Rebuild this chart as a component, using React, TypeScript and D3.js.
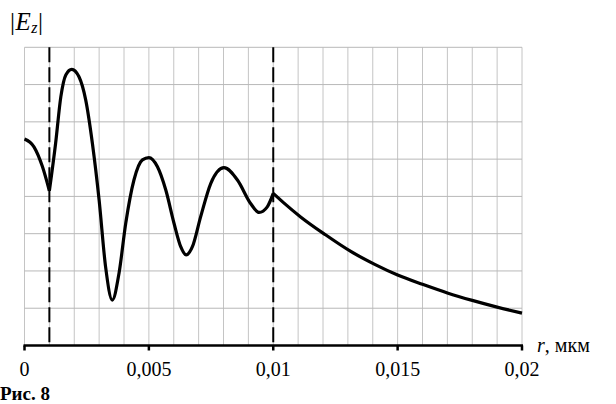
import React from "react";
import * as d3 from "d3";

// Curve, in three pieces (cusps at r = 0.001 and r = 0.01)
// values are in grid units (8 horizontal grid intervals, no y labels shown)
const seg1R = [0, 0.00038, 0.00072, 0.001];
const seg1V = [5.54, 5.33, 4.8, 4.15];

const seg2R = [0.001, 0.00125, 0.00146, 0.00166, 0.0019, 0.00219, 0.00246, 0.00273, 0.003, 0.00326, 0.00353, 0.0038, 0.00407, 0.0044, 0.00474, 0.005, 0.00534, 0.00568, 0.00601, 0.00628, 0.0065, 0.00675, 0.00708, 0.00749, 0.00802, 0.00856, 0.00909, 0.00943, 0.00976, 0.01];
const seg2V = [4.15, 5.42, 6.67, 7.26, 7.41, 7.21, 6.59, 5.42, 3.9, 2.11, 1.22, 1.94, 3.28, 4.44, 4.98, 5.04, 4.8, 4.17, 3.28, 2.65, 2.43, 2.65, 3.45, 4.35, 4.77, 4.44, 3.81, 3.57, 3.72, 4.08];

const seg3R = [0.01, 0.0104, 0.0111, 0.0121, 0.0131, 0.0141, 0.015, 0.016, 0.017, 0.018, 0.019, 0.02];
const seg3V = [4.08, 3.84, 3.45, 2.97, 2.53, 2.17, 1.89, 1.64, 1.41, 1.21, 1.03, 0.87];

const xTicks = [0, 0.005, 0.01, 0.015, 0.02];
const xTickLabels = ["0", "0,005", "0,01", "0,015", "0,02"];
const dashedAt = [0.001, 0.01];

const W = 616;
const H = 404;
const left = 24.5;
const right = 522;
const top = 47.3;
const bottom = 345.5;

export default function App() {
  const x = d3.scaleLinear().domain([0, 0.02]).range([left, right]);
  const y = d3.scaleLinear().domain([0, 8]).range([bottom, top]);
  const vGrid = d3.range(0, 21).map((i) => i * 0.001);
  const hGrid = d3.range(0, 9);

  const line = d3
    .line<[number, number]>()
    .x((d) => x(d[0]))
    .y((d) => y(d[1]))
    .curve(d3.curveMonotoneX);

  const segs = [
    [seg1R, seg1V],
    [seg2R, seg2V],
    [seg3R, seg3V],
  ].map(([rs, vs]) => line(rs.map((r, i) => [r, vs[i]] as [number, number])) || "");

  const serif = "'Liberation Serif', 'DejaVu Serif', serif";

  return (
    <svg
      width={W}
      height={H}
      style={{ position: "absolute", left: 0, top: 0, background: "#fff" }}
      fontFamily={serif}
    >
      <rect x={0} y={0} width={W} height={H} fill="#fff" />
      {vGrid.map((g, i) => (
        <line key={"v" + i} x1={x(g)} x2={x(g)} y1={top} y2={bottom} stroke="#c4c4c4" strokeWidth={1} />
      ))}
      {hGrid.map((g) => (
        <line key={"h" + g} x1={left} x2={right} y1={y(g)} y2={y(g)} stroke="#b8b8b8" strokeWidth={1} />
      ))}
      {dashedAt.map((d) => (
        <line
          key={"d" + d}
          x1={x(d)}
          x2={x(d)}
          y1={top}
          y2={bottom}
          stroke="#000"
          strokeWidth={2}
          strokeDasharray="15,5"
        />
      ))}
      {segs.map((p, i) => (
        <path key={"s" + i} d={p} fill="none" stroke="#000" strokeWidth={3.2} strokeLinejoin="round" />
      ))}
      <line x1={left - 1} x2={right + 1} y1={bottom} y2={bottom} stroke="#000" strokeWidth={2.5} />
      {xTicks.map((t, i) => (
        <g key={"t" + i}>
          <line x1={x(t)} x2={x(t)} y1={bottom} y2={bottom + 5} stroke="#000" strokeWidth={2.5} />
          <text x={x(t)} y={376} textAnchor="middle" fontSize={20} fill="#000">
            {xTickLabels[i]}
          </text>
        </g>
      ))}
      <text x={537} y={352} fontSize={20} fill="#000">
        <tspan fontStyle="italic">r</tspan>
        <tspan>, мкм</tspan>
      </text>
      <text x={10} y={30} fontSize={25} fill="#000" letterSpacing={0.5}>
        <tspan>|</tspan>
        <tspan fontStyle="italic">E</tspan>
        <tspan fontStyle="italic" fontSize={16} dy={3}>z</tspan>
        <tspan dy={-3}>|</tspan>
      </text>
      <text x={0} y={400} fontSize={19} fontWeight="bold" fill="#000">
        Рис. 8
      </text>
    </svg>
  );
}
